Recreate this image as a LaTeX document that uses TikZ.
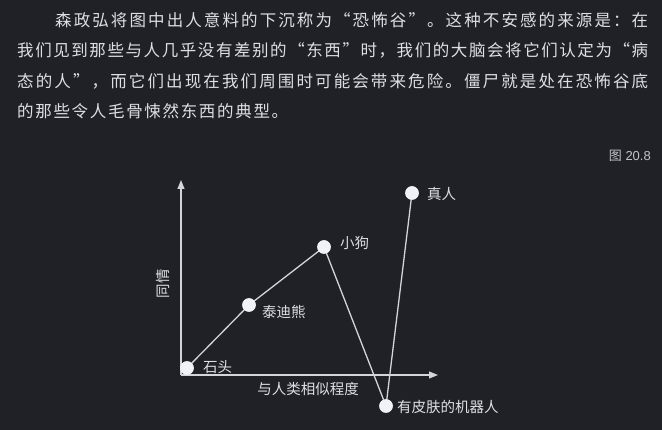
\documentclass[tikz,border=0pt]{standalone}
\usepackage{fontspec}
\newfontfamily\cjk{Noto Sans CJK SC}
\setmainfont{Liberation Sans}
\usetikzlibrary{arrows.meta}
\definecolor{bg}{RGB}{31,33,39}
\definecolor{fg}{RGB}{222,223,226}
\definecolor{ln}{RGB}{212,213,216}
\definecolor{dot}{RGB}{240,242,248}
\makeatletter
\def\spreadchars#1{\spr@a#1\relax}
\def\spr@a#1{\ifx#1\relax\unskip\else#1\hfil\expandafter\spr@a\fi}
\makeatother
\tikzset{
  para/.style={anchor=west, inner sep=0pt, text=fg, font=\cjk\fontsize{16.5}{18}\selectfont},
  lbl/.style={inner sep=0pt, text=fg, font=\cjk\fontsize{14.5}{16}\selectfont},
  pt/.style={circle, fill=dot, inner sep=0pt, minimum size=13.5pt},
  axis/.style={draw=ln, line width=1.2pt, -{Triangle[length=9pt,width=7pt]}},
  curve/.style={draw=ln, line width=1.3pt}
}
\begin{document}
\begin{tikzpicture}[x=1pt,y=-1pt]
\useasboundingbox[fill=bg] (0,0) rectangle (662,430);
% paragraph
\node[para] (l1) at (55,20) {\makebox[593pt][s]{\spreadchars{森政弘将图中出人意料的下沉称为“恐怖谷”。这种不安感的来源是：在}}};
\node[para] (l2) at (17,50) {\makebox[631pt][s]{\spreadchars{我们见到那些与人几乎没有差别的“东西”时，我们的大脑会将它们认定为“病}}};
\node[para] (l3) at (17,81) {\makebox[631pt][s]{\spreadchars{态的人”，而它们出现在我们周围时可能会带来危险。僵尸就是处在恐怖谷底}}};
\node[para] (l4) at (17,111) {\makebox[271pt][s]{\spreadchars{的那些令人毛骨悚然东西的典型。}}};
% caption
\node[anchor=east, inner sep=0pt, text=fg!85!bg, font=\fontsize{13}{15}\selectfont] (cap) at (651,156) {{\cjk 图} 20.8};
% axes
\coordinate (o) at (181,375);
\coordinate (ytop) at (181,180);
\coordinate (xend) at (438,375);
\draw[axis] (o) -- (ytop);
\draw[axis] (o) -- (xend);
\node[lbl, rotate=90] (ylab) at (163,284) {同情};
\node[lbl] (xlab) at (308,389) {与人类相似程度};
% points
\node[pt] (rock) at (187,368) {};
\node[pt] (teddy) at (249,305) {};
\node[pt] (dog) at (324,247) {};
\node[pt] (robot) at (386,406) {};
\node[pt] (human) at (412,193) {};
\draw[curve] (rock.center) -- (teddy.center) -- (dog.center) -- (robot.center) -- (human.center);
\foreach \n in {rock,teddy,dog,robot,human} \node[pt] at (\n) {};
% labels
\node[lbl, anchor=west] (lrock) at (203,367) {石头};
\node[lbl, anchor=west] (lteddy) at (262,312) {泰迪熊};
\node[lbl, anchor=west] (ldog) at (340,243) {小狗};
\node[lbl, anchor=west] (lhuman) at (427,194) {真人};
\node[lbl, anchor=west] (lrobot) at (397,407) {有皮肤的机器人};
\end{tikzpicture}
\end{document}
